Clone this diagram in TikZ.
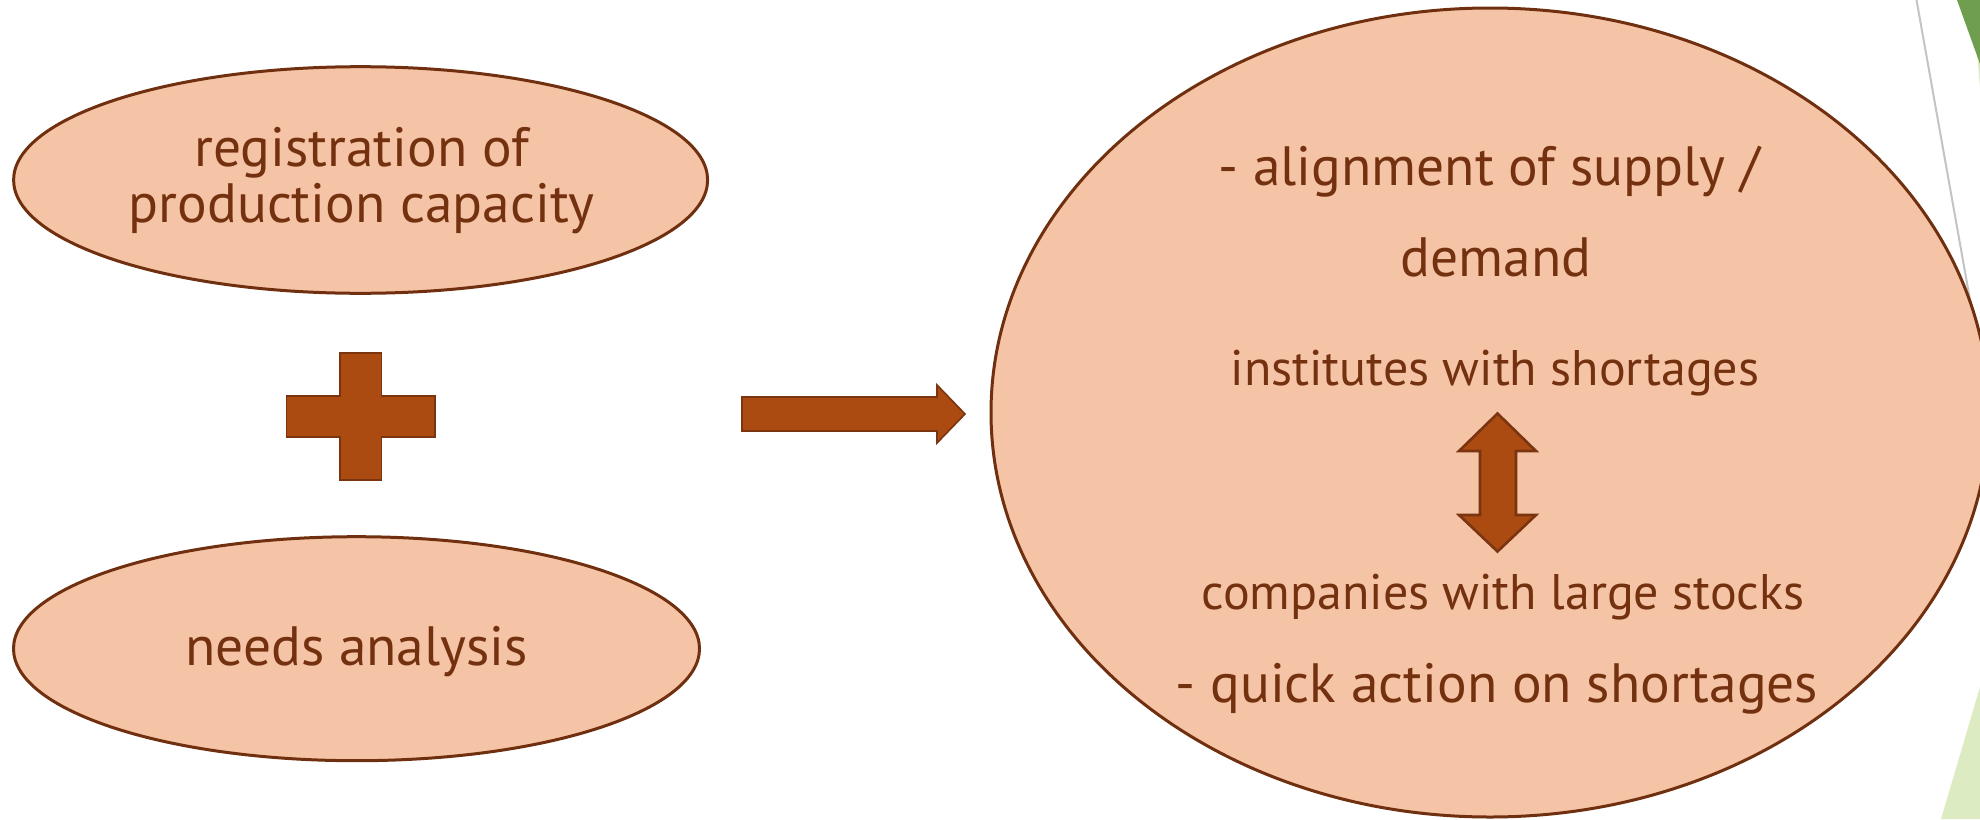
\documentclass[tikz,border=0pt]{standalone}
\usepackage{fontspec}
\setmainfont{PT Sans}
\usetikzlibrary{shapes.geometric}
\definecolor{peach}{HTML}{F5C3A5}
\definecolor{brownline}{HTML}{70300F}
\definecolor{txt}{HTML}{73310F}
\definecolor{rust}{HTML}{AB4B11}
\definecolor{rustline}{HTML}{7A3510}
\definecolor{dgreen}{HTML}{6E9E4E}
\definecolor{lgreen}{HTML}{DDEBC2}
\definecolor{greyline}{HTML}{C4C4C4}
\begin{document}
\begin{tikzpicture}[x=0.5pt,y=-0.5pt,
  oval/.style={ellipse, draw=brownline, fill=peach, line width=1.5pt, inner sep=0pt},
  bigtxt/.style={text=txt, font=\fontsize{27.7}{32}\selectfont, anchor=base, inner sep=0pt},
  smalltxt/.style={text=txt, font=\fontsize{25}{29}\selectfont, anchor=base, inner sep=0pt},
  block/.style={fill=rust, draw=rustline, line width=0.8pt, line join=miter}]
\useasboundingbox[fill=white] (0,0) rectangle (1980,819);
% decorative background pieces
\fill[lgreen] (1976,40) -- (1980,40) -- (1980,88) -- cycle;
\fill[dgreen] (1957,0) -- (1980,0) -- (1980,64) -- cycle;
\fill[lgreen] (1941,819) -- (1980,687) -- (1980,819) -- cycle;
\coordinate (gA) at (1916.5,0);
\coordinate (gB) at (1980,356);
\draw[greyline, line width=1pt] (gA) -- (gB);
% ellipses
\node[oval, minimum width=347pt, minimum height=113.3pt] (reg) at (360.6,180) {};
\node[oval, minimum width=343pt, minimum height=112pt] (needs) at (356.5,648.7) {};
\node[oval, minimum width=499pt, minimum height=404.5pt] (result) at (1490,412.5) {};
% plus sign
\draw[block] (340,352.7) -- (381.5,352.7) -- (381.5,396) -- (435,396) -- (435,437)
  -- (381.5,437) -- (381.5,480) -- (340,480) -- (340,437) -- (286.5,437)
  -- (286.5,396) -- (340,396) -- cycle;
% right block arrow
\draw[block] (742,397) -- (937,397) -- (937,385) -- (965,414) -- (937,443)
  -- (937,431) -- (742,431) -- cycle;
% double block arrow
\draw[block, line width=1.3pt] (1497.5,413.5) -- (1536,451) -- (1516,451) -- (1516,515)
  -- (1536,515) -- (1497.5,551.5) -- (1459,515) -- (1480,515) -- (1480,451)
  -- (1459,451) -- cycle;
% texts
\node[bigtxt] (t1) at (361.6,166.7) {registration of};
\node[bigtxt] (t2) at (361.8,222.7) {production capacity};
\node[bigtxt] (t3) at (356.5,665) {needs analysis};
\node[bigtxt] (t4) at (1489,185) {- alignment of supply /};
\node[bigtxt] (t5) at (1496,276.7) {demand};
\node[smalltxt] (t6) at (1495,385) {institutes with shortages};
\node[smalltxt] (t7) at (1503,609.3) {companies with large stocks};
\node[bigtxt] (t8) at (1497,702.7) {- quick action on shortages};
\end{tikzpicture}
\end{document}
